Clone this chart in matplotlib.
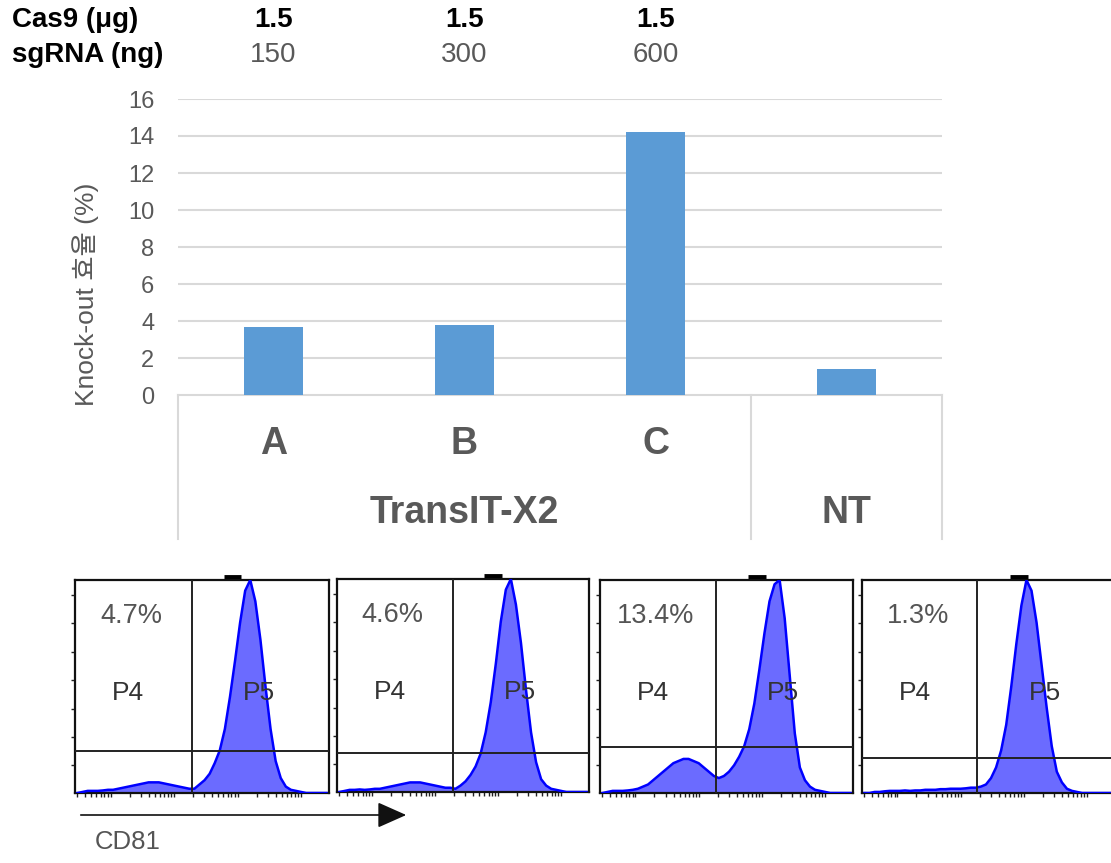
import matplotlib
matplotlib.use("Agg")
import matplotlib.pyplot as plt
import numpy as np
from matplotlib.transforms import blended_transform_factory

# ---------------- data ----------------
categories = ["A", "B", "C", "NT"]
knockout = [3.7, 3.8, 14.2, 1.4]
cas9_ug = ["1.5", "1.5", "1.5"]
sgrna_ng = ["150", "300", "600"]
group_labels = ["TransIT-X2", "NT"]
yticks = [0, 2, 4, 6, 8, 10, 12, 14, 16]

pct_labels = ["4.7%", "4.6%", "13.4%", "1.3%"]
gate_levels = [0.197, 0.183, 0.216, 0.164]
divider_pos = [0.46, 0.46, 0.46, 0.456]

hist1 = [0, 0.005, 0.01, 0.01, 0.01, 0.012, 0.015, 0.015, 0.02, 0.025,
         0.03, 0.035, 0.04, 0.045, 0.05, 0.05, 0.05, 0.045, 0.04, 0.035,
         0.03, 0.025, 0.02, 0.02,
         0.04, 0.06, 0.09, 0.14, 0.2, 0.3, 0.45, 0.62, 0.8, 0.95, 1.0,
         0.9, 0.72, 0.5, 0.3, 0.15, 0.07, 0.03, 0.015, 0.01, 0.005,
         0, 0, 0, 0, 0]
hist2 = [0, 0.005, 0.01, 0.01, 0.012, 0.01, 0.012, 0.015, 0.015, 0.02,
         0.025, 0.03, 0.035, 0.04, 0.045, 0.045, 0.045, 0.04, 0.035, 0.03,
         0.025, 0.02, 0.02, 0.015,
         0.03, 0.05, 0.08, 0.12, 0.18, 0.28, 0.42, 0.6, 0.8, 0.95, 1.0,
         0.88, 0.7, 0.48, 0.28, 0.14, 0.06, 0.03, 0.015, 0.01, 0.005,
         0, 0, 0, 0, 0]
hist3 = [0, 0.005, 0.01, 0.01, 0.01, 0.012, 0.015, 0.02, 0.03, 0.04,
         0.06, 0.08, 0.1, 0.12, 0.14, 0.15, 0.16, 0.16, 0.15, 0.14,
         0.12, 0.1, 0.08, 0.07,
         0.08, 0.1, 0.13, 0.17, 0.22, 0.3, 0.42, 0.58, 0.75, 0.9, 0.98,
         1.0, 0.82, 0.55, 0.28, 0.12, 0.06, 0.03, 0.015, 0.01, 0.005,
         0, 0, 0, 0, 0]
hist4 = [0, 0, 0.005, 0.005, 0.008, 0.01, 0.01, 0.01, 0.012, 0.01,
         0.012, 0.012, 0.015, 0.015, 0.015, 0.018, 0.018, 0.02, 0.02, 0.02,
         0.022, 0.025, 0.025, 0.03,
         0.04, 0.07, 0.12, 0.2, 0.32, 0.5, 0.7, 0.88, 1.0, 0.95, 0.8,
         0.6, 0.4, 0.22, 0.1, 0.05, 0.02, 0.01, 0.005, 0, 0,
         0, 0, 0, 0, 0]
histograms = [hist1, hist2, hist3, hist4]

# ---------------- figure ----------------
W, H = 1111, 863
fig = plt.figure(figsize=(W / 100, H / 100), dpi=100)


def px_axes(left, top, right, bottom):
    return fig.add_axes([left / W, 1 - bottom / H, (right - left) / W, (bottom - top) / H])


GRAY = "#595959"
GRID = "#d9d9d9"
BAR = "#5b9bd5"
FONT = ["Liberation Sans", "DejaVu Sans"]
NARROW = ["Liberation Sans Narrow", "Liberation Sans", "DejaVu Sans"]

# bar chart
ax = px_axes(178, 99, 942, 395)
x = np.arange(len(categories))
ax.bar(x, knockout, width=0.31, color=BAR, zorder=3)
ax.set_xlim(-0.5, 3.5)
ax.set_ylim(0, 16)
ax.set_yticks(yticks)
ax.set_yticklabels([str(t) for t in yticks], fontsize=17, color=GRAY, family=FONT)
ax.tick_params(axis="y", length=0, pad=17)
ax.set_xticks([])
for s in ["top", "right", "left"]:
    ax.spines[s].set_visible(False)
ax.spines["bottom"].set_color(GRID)
ax.spines["bottom"].set_linewidth(1.5)
ax.spines["bottom"].set_zorder(2)
for t in yticks[1:]:
    ax.axhline(t, color=GRID, lw=1.5, zorder=1)

bt = ax.get_xaxis_transform()
for xv in [-0.5, 2.5, 3.5]:
    ax.plot([xv, xv], [0, -0.488], transform=bt, color=GRID, lw=1.5, clip_on=False)
for i, c in enumerate(categories[:3]):
    ax.text(x[i], -0.165, c, transform=bt, ha="center", va="center",
            fontsize=27, fontweight="bold", color=GRAY, family=FONT)
ax.text(1.0, -0.397, group_labels[0], transform=bt, ha="center", va="center",
        fontsize=27, fontweight="bold", color=GRAY, family=FONT)
ax.text(3.0, -0.397, group_labels[1], transform=bt, ha="center", va="center",
        fontsize=27, fontweight="bold", color=GRAY, family=FONT)

ax.set_ylabel("Knock-out 효율 (%)", fontsize=19, color=GRAY,
              family=["Liberation Sans", "Noto Sans CJK KR"])
ax.yaxis.set_label_coords((99 - 178) / 764, 0.34)

# header
ht = blended_transform_factory(ax.transData, fig.transFigure)
fig.text(12 / W, 1 - 20 / H, "Cas9 (μg)", ha="left", va="center", fontsize=20,
         fontweight="bold", color="black", family=NARROW)
fig.text(12 / W, 1 - 55 / H, "sgRNA (ng)", ha="left", va="center", fontsize=20,
         fontweight="bold", color="black", family=NARROW)
for i in range(3):
    ax.text(x[i], 1 - 20 / H, cas9_ug[i], transform=ht, ha="center", va="center",
            fontsize=20, fontweight="bold", color="black", family=NARROW)
    ax.text(x[i], 1 - 55 / H, sgrna_ng[i], transform=ht, ha="center", va="center",
            fontsize=20, color=GRAY, family=NARROW)

# flow histograms
panels = [(75, 580, 329, 793), (337, 579, 589, 792), (600, 580, 853, 793), (862, 580, 1115, 793)]
nb = len(hist1)
centers = (np.arange(nb) + 0.5) / nb
decade_ends = [0.14 - 0.25, 0.14, 0.39, 0.64, 0.89]
minor = []
for d in decade_ends:
    for k in range(2, 11):
        p = d - 0.25 + 0.25 * np.log10(k)
        if 0.0 < p < 1.0:
            minor.append(p)

for i, (l, t, r, b) in enumerate(panels):
    fa = px_axes(l, t, r, b)
    vals = np.array(histograms[i])
    fa.fill_between(centers, 0, vals, color="#6b6bff", lw=0, zorder=2)
    fa.plot(centers, vals, color="#0000ff", lw=1.8, zorder=3)
    fa.set_xlim(0, 1)
    fa.set_ylim(0, 1.0)
    for s in fa.spines.values():
        s.set_linewidth(1.6)
        s.set_color("#111111")
    fa.set_xticks(minor)
    fa.set_xticklabels([])
    fa.set_yticks(np.linspace(0.13, 0.93, 7))
    fa.set_yticklabels([])
    fa.tick_params(axis="both", direction="out", length=3, width=1, color="#222222")
    fa.axhline(gate_levels[i], color="#222222", lw=1.4, zorder=4)
    fa.axvline(divider_pos[i], color="#222222", lw=1.4, zorder=4)
    fa.plot([0.585, 0.655], [1.012, 1.012], color="black", lw=3.5, clip_on=False,
            solid_capstyle="butt")
    fa.text(0.22, 0.83, pct_labels[i], transform=fa.transAxes, ha="center", va="center",
            fontsize=19.5, color="#555555", family=FONT)
    fa.text(0.21, 0.47, "P4", transform=fa.transAxes, ha="center", va="center",
            fontsize=19, color="#333333", family=FONT, zorder=5)
    fa.text(0.725, 0.47, "P5", transform=fa.transAxes, ha="center", va="center",
            fontsize=19, color="#333333", family=FONT, zorder=5)

# CD81 arrow
fig.add_artist(matplotlib.patches.FancyArrowPatch(
    (78 / W, 1 - 815 / H), (409 / W, 1 - 815 / H), transform=fig.transFigure,
    arrowstyle="-|>,head_length=9,head_width=4", mutation_scale=2,
    color="#111111", lw=1.2))
fig.text(95 / W, 1 - 842 / H, "CD81", ha="left", va="center", fontsize=18.5,
         color="#555555", family=FONT)

fig.savefig("out.png", dpi=100)
